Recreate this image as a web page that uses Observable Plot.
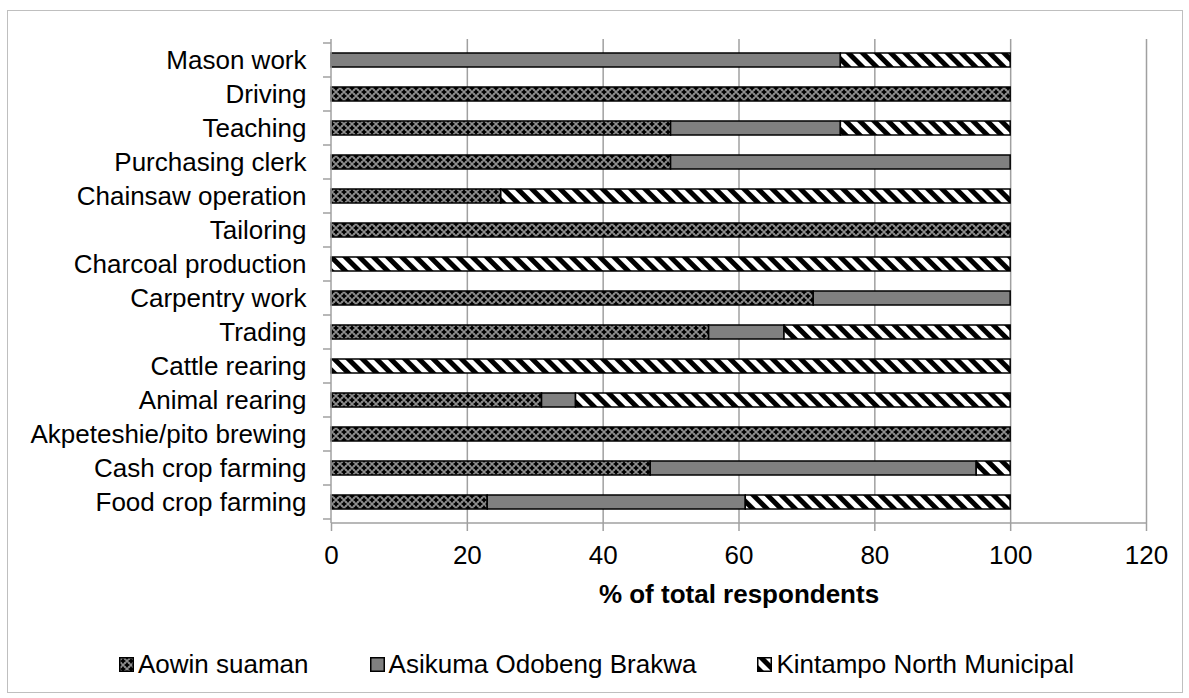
<!DOCTYPE html>
<html>
<head>
<meta charset="utf-8">
<script src="https://cdn.jsdelivr.net/npm/d3@7"></script>
<script src="https://cdn.jsdelivr.net/npm/@observablehq/plot@0.6"></script>
<style>
  html, body { margin: 0; padding: 0; background: #fff; }
  body { width: 1189px; height: 698px; position: relative; overflow: hidden;
         font-family: "Liberation Sans", Arial, sans-serif; }
  #frame { position: absolute; left: 7px; top: 10px; width: 1174px; height: 681px;
           border: 1px solid #bfbfbf; pointer-events: none; }
  #chart { position: absolute; left: 0; top: 0; }
  #legend { position: absolute; left: 0; top: 642px; width: 1189px; height: 44px;
            display: flex; align-items: center; justify-content: flex-start; gap: 61px;
            font-size: 26px; color: #000; padding-left: 119px; box-sizing: border-box; }
  .item { display: flex; align-items: center; white-space: nowrap; }
  .item svg { margin-right: 4px; }
</style>
</head>
<body>
<svg width="0" height="0" style="position:absolute">
  <defs>
    <pattern id="pAowin" patternUnits="userSpaceOnUse" width="8" height="8">
      <rect width="8" height="8" fill="#6a6a6a"></rect>
      <path d="M0,-2.5L2.5,0L0,2.5L-2.5,0Z M8,-2.5L10.5,0L8,2.5L5.5,0Z M0,5.5L2.5,8L0,10.5L-2.5,8Z M8,5.5L10.5,8L8,10.5L5.5,8Z M4,1.5L6.5,4L4,6.5L1.5,4Z" fill="#000"></path>
      <rect x="3.5" y="-0.5" width="1" height="1" fill="#fff"></rect>
      <rect x="3.5" y="7.5" width="1" height="1" fill="#fff"></rect>
      <rect x="-0.5" y="3.5" width="1" height="1" fill="#fff"></rect>
      <rect x="7.5" y="3.5" width="1" height="1" fill="#fff"></rect>
      <rect x="1.5" y="1.5" width="1" height="1" fill="#e0e0e0"></rect>
      <rect x="5.5" y="5.5" width="1" height="1" fill="#e0e0e0"></rect>
      <rect x="5.5" y="1.5" width="1" height="1" fill="#e0e0e0"></rect>
      <rect x="1.5" y="5.5" width="1" height="1" fill="#e0e0e0"></rect>
    </pattern>
    <pattern id="pAsikuma" patternUnits="userSpaceOnUse" width="4" height="4">
      <rect width="4" height="4" fill="#808080"></rect>
    </pattern>
    <pattern id="pKintampo" patternUnits="userSpaceOnUse" width="10" height="10" patternTransform="rotate(-45)">
      <rect width="10" height="10" fill="#fff"></rect>
      <rect width="5" height="10" fill="#000"></rect>
    </pattern>
  </defs>
</svg>
<div id="chart"></div>
<div id="legend"></div>
<div id="frame"></div>
<script>
// ---- data ----
const categories = [
  "Mason work", "Driving", "Teaching", "Purchasing clerk", "Chainsaw operation",
  "Tailoring", "Charcoal production", "Carpentry work", "Trading", "Cattle rearing",
  "Animal rearing", "Akpeteshie/pito brewing", "Cash crop farming", "Food crop farming"
];
const series = ["Aowin suaman", "Asikuma Odobeng Brakwa", "Kintampo North Municipal"];
const aowin    = [0, 100, 50, 50, 25, 100, 0, 71, 55.6, 0, 31, 100, 47, 23];
const asikuma  = [75, 0, 25, 50, 0, 0, 0, 29, 11.1, 0, 5, 0, 48, 38];
const kintampo = [25, 0, 25, 0, 75, 0, 100, 0, 33.3, 100, 64, 0, 5, 39];
const xTicks = [0, 20, 40, 60, 80, 100, 120];
const xTitle = "% of total respondents";
const patterns = ["url(#pAowin)", "url(#pAsikuma)", "url(#pKintampo)"];

const valuesBySeries = [aowin, asikuma, kintampo];
const data = [];
series.forEach((s, si) => {
  categories.forEach((c, ci) => {
    data.push({category: c, series: s, value: valuesBySeries[si][ci]});
  });
});

const gray = "#a0a0a0";

// axis lines and band-boundary ticks drawn from the scales
function axisFrame(index, scales, values, dims) {
  const x = scales.x, y = scales.y;
  const g = d3.create("svg:g").attr("stroke", gray).attr("stroke-width", 1.5).attr("fill", "none");
  const top = dims.marginTop, bottom = dims.height - dims.marginBottom;
  const bw = y.bandwidth ? y.bandwidth() : (bottom - top) / categories.length;
  const x0 = x(0);
  g.append("line").attr("x1", x0).attr("x2", x0).attr("y1", top).attr("y2", bottom);
  g.append("line").attr("x1", x0).attr("x2", x(xTicks[xTicks.length - 1])).attr("y1", bottom).attr("y2", bottom);
  const ys = categories.map(c => y(c));
  ys.push(y(categories[categories.length - 1]) + bw);
  ys.forEach(v => g.append("line").attr("x1", x0 - 8).attr("x2", x0).attr("y1", v).attr("y2", v));
  return g.node();
}

const chart = Plot.plot({
  width: 1189,
  height: 642,
  marginLeft: 331,
  marginRight: 43,
  marginTop: 39,
  marginBottom: 119,
  style: {fontFamily: "'Liberation Sans', Arial, sans-serif", fontSize: "26px", color: "#000", background: "transparent", overflow: "visible"},
  x: {domain: [0, 120], ticks: xTicks},
  y: {domain: categories, padding: 0},
  color: {domain: series, range: patterns},
  marks: [
    Plot.gridX(xTicks.filter(d => d > 0), {stroke: gray, strokeOpacity: 1, strokeWidth: 1.5}),
    Plot.barX(data, {x: "value", y: "category", fill: "series", stroke: "#000", strokeWidth: 1.5,
                     insetTop: 10, insetBottom: 10, order: series}),
    axisFrame,
    Plot.axisY({tickSize: 0, tickPadding: 25, fontSize: 26, label: null}),
    Plot.axisX({ticks: xTicks, tickSize: 8, tickPadding: 14, stroke: gray, strokeWidth: 1.5, fill: "#000", fontSize: 26, label: null}),
    Plot.text([xTitle], {frameAnchor: "bottom", dy: 71, fontWeight: "bold", fontSize: 26, fill: "#000", lineAnchor: "middle"})
  ]
});
document.getElementById("chart").appendChild(chart);

// legend
const legend = d3.select("#legend");
series.forEach((s, i) => {
  const item = legend.append("div").attr("class", "item");
  const sw = item.append("svg").attr("width", 15).attr("height", 15);
  sw.append("rect").attr("x", 0.75).attr("y", 0.75).attr("width", 13.5).attr("height", 13.5)
    .attr("fill", patterns[i]).attr("stroke", "#000").attr("stroke-width", 1.5);
  item.append("span").text(s);
});
</script>
</body>
</html>
